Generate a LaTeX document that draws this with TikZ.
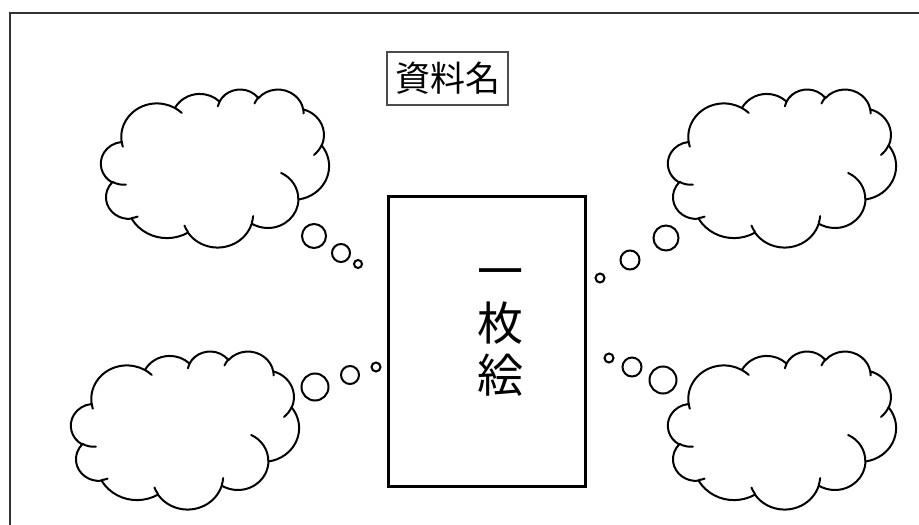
\documentclass[tikz,border=0pt]{standalone}
\usepackage{fontspec}
\newfontfamily\jp{Noto Sans CJK JP}
\tikzset{
  oarc/.style n args={4}{x radius=#1, y radius=#2,
    start angle={atan2(#1*sin(#3),#2*cos(#3))},
    delta angle={mod(atan2(#1*sin(#3+#4),#2*cos(#3+#4))-atan2(#1*sin(#3),#2*cos(#3))+720,360)}},
  cloudline/.style={line width=2pt, line join=round, line cap=round},
  bubble/.style={line width=2pt},
  officecloud/.pic={
    \draw[cloudline, fill=white] (39.00,143.70)
      arc[oarc={67.53}{91.90}{-190.4875}{123.7805}]
      arc[oarc={53.33}{72.67}{-144.1024}{89.9452}]
      arc[oarc={43.65}{59.45}{-145.8079}{99.7230}]
      arc[oarc={48.57}{65.95}{-130.9861}{117.2417}]
      arc[oarc={53.33}{72.73}{-78.7089}{109.0269}]
      arc[oarc={67.75}{92.20}{-46.2673}{130.2690}]
      arc[oarc={57.85}{78.67}{0.6250}{114.0333}]
      arc[oarc={67.52}{92.15}{22.4516}{115.1726}]
      arc[oarc={77.20}{105.43}{66.2426}{75.7110}]
      arc[oarc={43.60}{59.18}{-274.9421}{146.7356}]
      arc[oarc={43.45}{59.45}{-246.8285}{152.5189}]
      -- cycle;
    \draw[cloudline]
      (46.93,261.77) arc[oarc={43.45}{59.45}{86.7420}{26.4295}]
      (69.28,348.99) arc[oarc={43.60}{59.18}{73.6105}{11.4475}]
      (164.78,390.90) arc[oarc={67.52}{92.15}{137.6242}{14.0811}]
      (288.27,347.51) arc[oarc={67.52}{92.15}{6.4533}{15.9984}]
      (341.29,229.54) arc[oarc={57.85}{78.67}{-70.2924}{70.9174}]
      (417.98,153.54) arc[oarc={53.33}{72.73}{30.3180}{27.7515}]
      (383.24,54.26) arc[oarc={48.57}{65.95}{-13.7443}{14.8589}]
      (290.78,39.52) arc[oarc={48.57}{65.95}{-149.1815}{18.1954}]
      (221.41,47.20) arc[oarc={43.65}{59.45}{-163.4943}{17.6864}]
      (140.00,51.92) arc[oarc={67.53}{91.90}{-66.7070}{12.3194}]
      (41.27,157.89) arc[oarc={67.53}{91.90}{157.6544}{11.8582}];
  }
}
\begin{document}
\begin{tikzpicture}[x=1pt,y=-1pt]
\useasboundingbox (0,0) rectangle (919,525);
% outer frame (only top and left edges are visible)
\coordinate (fbl) at (10,525);
\coordinate (ftl) at (10,13);
\coordinate (ftr) at (919,13);
\draw[line width=2pt, black!80] (fbl) -- (ftl) -- (ftr);

% title
\node[draw=black!70, line width=2pt, minimum width=121pt, minimum height=53pt,
      inner sep=0pt, font=\jp\fontsize{35}{38}\selectfont] (title) at (447.5,78.5) {資料名};

% central picture frame
\node[draw, line width=3pt, minimum width=197pt, minimum height=290pt, inner sep=0pt] (frame) at (486.5,341) {};
\node[font=\jp\fontsize{46}{52}\selectfont, align=center, inner sep=0pt] (pic) at (500,333) {一\\枚\\絵};

% clouds
\begin{scope}[shift={(101,89)}, x=0.5278pt, y=-0.3657pt]
  \pic {officecloud};
\end{scope}
\begin{scope}[shift={(668,89)}, x=0.5278pt, y=-0.3657pt]
  \pic {officecloud};
\end{scope}
\begin{scope}[shift={(71,351)}, x=0.5278pt, y=-0.3657pt]
  \pic {officecloud};
\end{scope}
\begin{scope}[shift={(668,351)}, x=0.5278pt, y=-0.3657pt]
  \pic {officecloud};
\end{scope}

% thought bubbles
\draw[bubble] (314,236) circle[radius=12pt];
\draw[bubble] (341,253) circle[radius=9pt];
\draw[bubble] (358,264) circle[radius=4pt];

\draw[bubble] (666,238) circle[radius=12.5pt];
\draw[bubble] (630,260) circle[radius=9.5pt];
\draw[bubble] (600,278) circle[radius=4.5pt];

\draw[bubble] (315,387) circle[radius=13.5pt];
\draw[bubble] (350,375) circle[radius=9pt];
\draw[bubble] (376,367) circle[radius=4.5pt];

\draw[bubble] (609,358) circle[radius=4.5pt];
\draw[bubble] (632,367) circle[radius=9.5pt];
\draw[bubble] (663,380) circle[radius=13.5pt];
\end{tikzpicture}
\end{document}
